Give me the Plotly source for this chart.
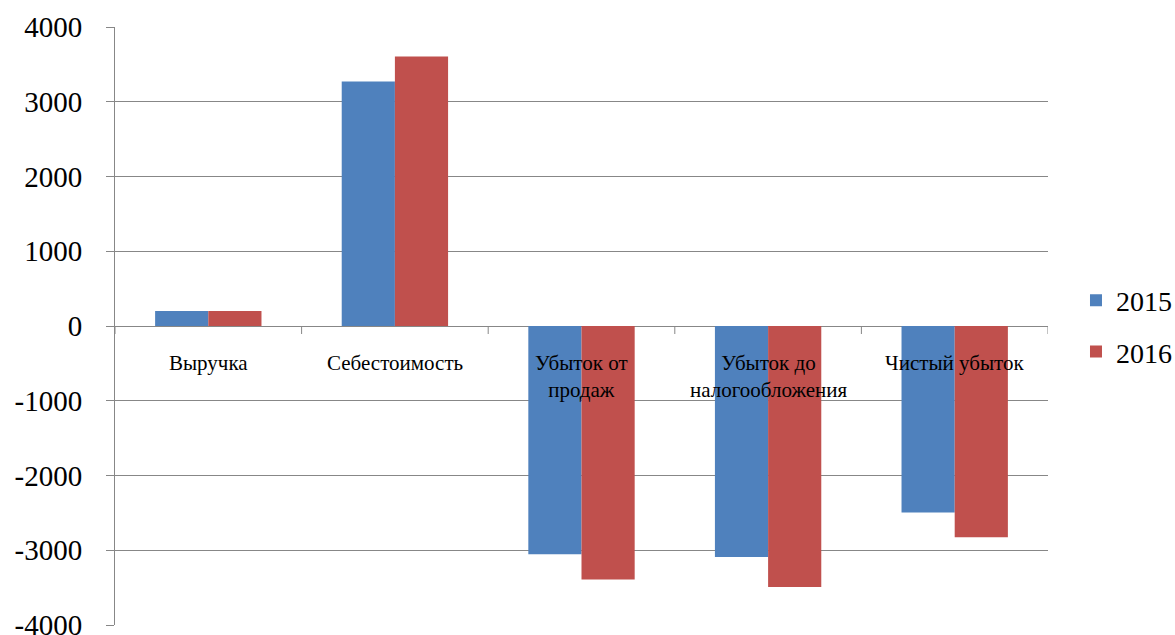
import plotly.graph_objects as go

categories = ["Выручка", "Себестоимость", "Убыток от<br>продаж", "Убыток до<br>налогообложения", "Чистый убыток"]
series_names = ["2015", "2016"]
values_2015 = [200, 3270, -3055, -3090, -2495]
values_2016 = [200, 3605, -3390, -3490, -2825]
y_ticks = [4000, 3000, 2000, 1000, 0, -1000, -2000, -3000, -4000]
y_tick_labels = ["4000", "3000", "2000", "1000", "0", "-1000", "-2000", "-3000", "-4000"]

colors = ["#4F81BD", "#C0504D"]
serif = "Times New Roman, Liberation Serif, serif"
grid = "#878787"

x_idx = list(range(len(categories)))

fig = go.Figure()
for name, vals, col in zip(series_names, [values_2015, values_2016], colors):
    fig.add_trace(go.Bar(x=x_idx, y=vals, name=name, legendgroup=name,
                         marker=dict(color=col, line=dict(width=0))))

# category labels placed just below the zero line
for i, c in enumerate(categories):
    fig.add_annotation(x=i, y=0, xref="x", yref="y", text=c, showarrow=False,
                       yanchor="top", yshift=-23, font=dict(family=serif, size=21, color="black"))

# tick marks at category boundaries on the zero line
for i in range(len(categories) + 1):
    fig.add_shape(type="line", xref="x", yref="paper", x0=i - 0.5, x1=i - 0.5,
                  y0=0.5, y1=0.5 - 8 / 598, line=dict(color=grid, width=1))

fig.update_layout(
    template="none",
    font=dict(family=serif, color="black"),
    width=1175, height=635,
    margin=dict(l=115, r=127, t=27, b=10, autoexpand=False),
    paper_bgcolor="white", plot_bgcolor="white",
    barmode="group", bargap=0.43, bargroupgap=0,
    showlegend=True,
    legend=dict(x=1.03, y=0.5, xanchor="left", yanchor="middle",
                font=dict(family=serif, size=28, color="black"),
                itemwidth=30, tracegroupgap=12, bgcolor="rgba(0,0,0,0)"),
    xaxis=dict(range=[-0.5, len(categories) - 0.5], showticklabels=False, showgrid=False,
               zeroline=False, showline=False, ticks=""),
    yaxis=dict(range=[-4000, 4000], tickvals=y_ticks, ticktext=y_tick_labels,
               ticks="outside", ticklen=8,
               tickcolor=grid, showgrid=True, gridcolor=grid, gridwidth=1,
               zeroline=True, zerolinecolor=grid, zerolinewidth=1,
               showline=True, linecolor=grid, linewidth=1,
               tickfont=dict(family=serif, size=29, color="black"),
               ticklabelstandoff=18, ticklabeloverflow="allow"),
)

fig.write_html("out.html")
